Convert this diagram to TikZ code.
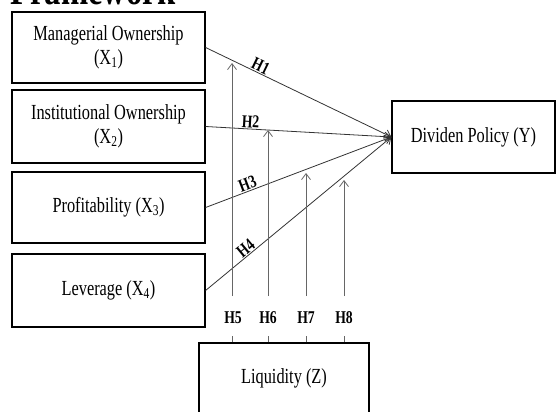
\documentclass[tikz,border=0pt]{standalone}
\usepackage{fontspec}
\setmainfont{Liberation Serif}[FakeStretch=0.76]
\usetikzlibrary{arrows.meta}
\begin{document}
\begin{tikzpicture}[x=1pt,y=-1pt,
  box/.style={draw=black,line width=1.2pt,rectangle,inner sep=0pt,
    font=\fontsize{21.5}{24}\selectfont,align=center},
  hlab/.style={font=\fontsize{18}{20}\selectfont\bfseries,inner sep=1pt},
  rel/.style={draw=black!80,line width=0.8pt,-{Straight Barb[length=6pt,width=9pt]}},
  mod/.style={draw=black!60,line width=0.8pt,-{Straight Barb[length=6pt,width=9pt]}},
  tick/.style={draw=black!60,line width=0.8pt}]
\useasboundingbox (0,0) rectangle (557,412);
\clip (0,0) rectangle (557,412);
\node[anchor=base west,inner sep=0pt,font=\fontsize{43}{43}\selectfont\bfseries] (title) at (10,5) {Framework};
% independent variables
\node[box,minimum width=193pt,minimum height=71pt] (x1) at (108.5,47.5) {Managerial Ownership\\(X\textsubscript{1})};
\node[box,minimum width=193pt,minimum height=73pt] (x2) at (108.5,126.5) {Institutional Ownership\\(X\textsubscript{2})};
\node[box,minimum width=193pt,minimum height=71pt] (x3) at (108.5,207.5) {Profitability (X\textsubscript{3})};
\node[box,minimum width=193pt,minimum height=73pt] (x4) at (108.5,290.5) {Leverage (X\textsubscript{4})};
% dependent
\node[box,minimum width=163pt,minimum height=72pt] (y) at (473.5,137) {Dividen Policy (Y)};
% moderator
\node[box,minimum width=170pt,minimum height=70pt] (z) at (284,378) {Liquidity (Z)};
% hypotheses H1-H4
\draw[rel] (x1.east) -- node[hlab,pos=0.28,above,sloped]{H1} (y.west);
\draw[rel] (x2.east) -- node[hlab,pos=0.24,above,sloped]{H2} (y.west);
\draw[rel] (x3.east) -- node[hlab,pos=0.24,above,sloped]{H3} (y.west);
\draw[rel] (x4.east) -- node[hlab,pos=0.24,above,sloped]{H4} (y.west);
% moderation labels
\node[hlab] (h5) at (233,318) {H5};
\node[hlab] (h6) at (268,318) {H6};
\node[hlab] (h7) at (306,318) {H7};
\node[hlab] (h8) at (344,318) {H8};
% arrow tips and line bottoms
\coordinate (t5) at (232,63);
\coordinate (t6) at (268,130);
\coordinate (t7) at (306,173);
\coordinate (t8) at (344,180);
\coordinate (b5) at (232,296);
\coordinate (b6) at (268,296);
\coordinate (b7) at (306,296);
\coordinate (b8) at (344,296);
\draw[mod] (b5) -- (t5);
\draw[mod] (b6) -- (t6);
\draw[mod] (b7) -- (t7);
\draw[mod] (b8) -- (t8);
\draw[tick] (z.north -| b5) -- ++(0,-6);
\draw[tick] (z.north -| b6) -- ++(0,-6);
\draw[tick] (z.north -| b7) -- ++(0,-6);
\draw[tick] (z.north -| b8) -- ++(0,-6);
\end{tikzpicture}
\end{document}
